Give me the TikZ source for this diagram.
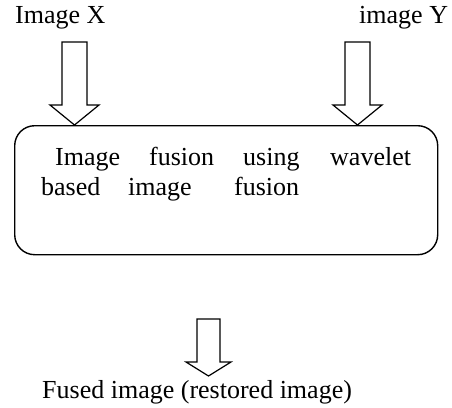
\documentclass[tikz,border=0pt]{standalone}
\usepackage{fontspec}
\setmainfont{Liberation Serif}
\begin{document}
\begin{tikzpicture}[x=1pt,y=-1pt,
  lbl/.style={inner sep=0pt,anchor=base west,font=\fontsize{26}{30}\selectfont},
  fusebox/.style={draw,line width=1.4pt,rounded corners=20pt,inner sep=0pt},
  blockarrow/.pic={
    % shaft from the top down, then the triangular head
    \draw[line width=1.2pt,line join=miter]
      (-\sw,0) -- (-\sw,\sl) -- (-\hw,\sl) -- (0,\tl) -- (\hw,\sl)
      -- (\sw,\sl) -- (\sw,0) -- cycle;
  }]
\useasboundingbox (0,0) rectangle (452,407);

% input labels
\node[lbl] (imgx) at (15,23) {Image X};
\node[lbl] (imgy) at (359,23) {image Y};

% fusion block
\node[fusebox,minimum width=423pt,minimum height=129pt,anchor=north west]
  (fusion) at (14,125) {};
\node[lbl] (w1) at (55,165) {Image};
\node[lbl] (w2) at (149,165) {fusion};
\node[lbl] (w3) at (243,165) {using};
\node[lbl] (w4) at (330,165) {wavelet};
\node[lbl] (w5) at (41,195) {based};
\node[lbl] (w6) at (128,195) {image};
\node[lbl] (w7) at (234,195) {fusion};

% output label
\node[lbl] (fused) at (42,398) {Fused image (restored image)};

% block arrows: shaft half width, head half width, shaft length, total length
\def\sw{12.5}\def\hw{24.5}\def\sl{63}\def\tl{83}
\pic at (74.5,42) {blockarrow};
\pic at (357.5,42) {blockarrow};
\def\sw{11.5}\def\hw{22.5}\def\sl{43}\def\tl{57}
\pic at (208.5,319) {blockarrow};
\end{tikzpicture}
\end{document}
